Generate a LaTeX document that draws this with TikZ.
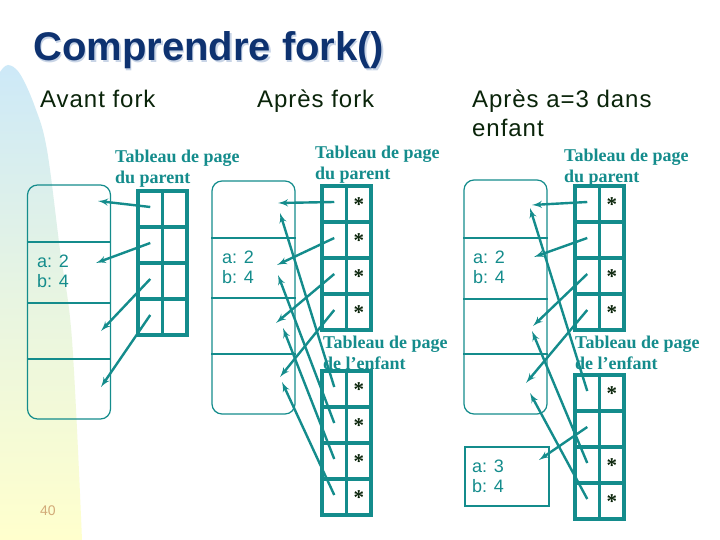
\documentclass[tikz,border=0pt]{standalone}
\usepackage{fontspec}
\setmainfont{Liberation Serif}
\setsansfont{Liberation Sans}
\newfontfamily\hdrfont[LetterSpace=4]{Liberation Sans}
\usepackage{tikz}
\usetikzlibrary{arrows}
\definecolor{teal1}{RGB}{20,140,140}
\definecolor{navy1}{RGB}{14,50,112}
\definecolor{shade1}{RGB}{200,212,230}
\definecolor{dark1}{RGB}{10,36,10}
\definecolor{tan1}{RGB}{210,170,120}
\definecolor{bgblue}{RGB}{205,233,248}
\definecolor{bggreen}{RGB}{232,245,225}
\definecolor{bgyellow}{RGB}{255,255,205}
\tikzstyle{mem}=[draw=teal1, line width=1.2pt, rounded corners=10pt, minimum width=83pt, inner sep=0pt]
\tikzstyle{cell}=[draw=teal1, line width=3.2pt, minimum width=24.5pt, minimum height=36pt, inner sep=0pt, outer sep=0pt]
\tikzstyle{lbl}=[teal1, font=\fontsize{18}{21}\selectfont\bfseries, align=left, anchor=west, inner sep=0pt]
\tikzstyle{hdr}=[dark1, font=\fontsize{24}{29}\selectfont\hdrfont, align=left, anchor=north west, inner sep=0pt]
\tikzstyle{val}=[teal1, font=\fontsize{18}{20}\selectfont\sffamily, align=left, anchor=west, inner sep=0pt]
\tikzstyle{ast}=[dark1, font=\fontsize{21}{21}\selectfont\bfseries, inner sep=0pt]
\tikzstyle{ptr}=[->, teal1, line width=2.4pt]
\tikzstyle{sep}=[teal1, line width=1.2pt]

\begin{document}
\begin{tikzpicture}[x=1pt,y=-1pt,>=latex']
    \useasboundingbox (0,0) rectangle (720,540);
    \fill[white] (0,0) rectangle (720,540);
    \shade[top color=bgblue, bottom color=bgyellow, middle color=bggreen]
        plot[smooth, tension=0.6] coordinates {(0,72) (8,65) (20,74) (35,107) (47,150) (60,250) (72,340) (82,540)} -- (0,540) -- cycle;

    \node[anchor=base west, inner sep=0pt, text=shade1, font=\fontsize{40}{44}\selectfont\sffamily\bfseries] (titleshadow) at (34.5,62.5) {Comprendre fork()};
    \node[anchor=base west, inner sep=0pt, text=navy1, font=\fontsize{40}{44}\selectfont\sffamily\bfseries] (title) at (33,61) {Comprendre fork()};

    \node[hdr] (avant) at (40,90) {Avant fork};
    \node[hdr] (apres) at (257,90) {Après fork};
    \node[hdr] (apresa) at (472,90) {Après a=3 dans\\enfant};

    % memoire
    \node[mem, minimum height=234pt] (m1) at (69,302) {};
    \node[mem, minimum height=233pt] (m2) at (253.5,297.5) {};
    \node[mem, minimum height=234pt] (m3) at (505.5,297) {};
    \node[draw=teal1, line width=1.2pt, minimum width=84pt, minimum height=59pt, inner sep=0pt] (m4) at (507,476.5) {};
    \foreach \y in {242,303,359} \draw[sep] (m1.west |- 0,\y) -- (m1.east |- 0,\y);
    \foreach \y in {238,298,354} \draw[sep] (m2.west |- 0,\y) -- (m2.east |- 0,\y);
    \foreach \y in {238,299,354} \draw[sep] (m3.west |- 0,\y) -- (m3.east |- 0,\y);
    \node[val] (v1) at (37,271) {a: 2\\b: 4};
    \node[val] (v2) at (222,267) {a: 2\\b: 4};
    \node[val] (v3) at (473,267) {a: 2\\b: 4};
    \node[val] (v4) at (472,476) {a: 3\\b: 4};

    % tableaux de pages
    \foreach \t/\x/\y in {a/138/191, b/322/186, c/322/371, d/575/186, e/575/375} {
        \foreach \r in {1,...,4} {
            \node[cell] (\t l\r) at ({\x+12.25},{\y+36*\r-18}) {};
            \node[cell] (\t r\r) at ({\x+36.75},{\y+36*\r-18}) {};
        }
    }
    \foreach \t/\r in {b/1,b/2,b/3,b/4,c/1,c/2,c/3,c/4,d/1,d/3,d/4,e/1,e/3,e/4}
        \node[ast] (s\t\r) at ([yshift=-1pt]\t r\r.center) {*};
    \node[lbl] (la) at (115,169) {Tableau de page\\du parent};
    \node[lbl] (lb) at (315,165) {Tableau de page\\du parent};
    \node[lbl] (lc) at (323,352.5) {Tableau de page\\de l’enfant};
    \node[lbl] (ld) at (564,167.5) {Tableau de page\\du parent};
    \node[lbl] (le) at (575,353) {Tableau de page\\de l’enfant};

    % pointeurs
    \coordinate (pa1) at (98,201);
    \coordinate (pa2) at (96,263);
    \coordinate (pa3) at (101,331);
    \coordinate (pa4) at (101,387);
    \coordinate (pb1) at (278,203);
    \coordinate (pb2) at (277,265);
    \coordinate (pb3) at (276,323);
    \coordinate (pb4) at (280,377);
    \coordinate (pc1) at (280,213);
    \coordinate (pc2) at (278,275);
    \coordinate (pc3) at (283,328);
    \coordinate (pc4) at (282,382);
    \coordinate (pd1) at (532,205);
    \coordinate (pd2) at (534,257);
    \coordinate (pd3) at (533,326);
    \coordinate (pd4) at (526,383);
    \coordinate (pe1) at (530,208);
    \coordinate (pe2) at (539,460);
    \coordinate (pe3) at (532,331);
    \coordinate (pe4) at (530,393);
    \foreach \t in {a,b,c,d,e}
        \foreach \r in {1,...,4}
            \draw[ptr] ([yshift=2pt]\t l\r.center) -- (p\t\r);

    \node[anchor=base west, inner sep=0pt, text=tan1, font=\fontsize{14}{14}\selectfont\sffamily] (pnum) at (40,515) {40};
\end{tikzpicture}
\end{document}
